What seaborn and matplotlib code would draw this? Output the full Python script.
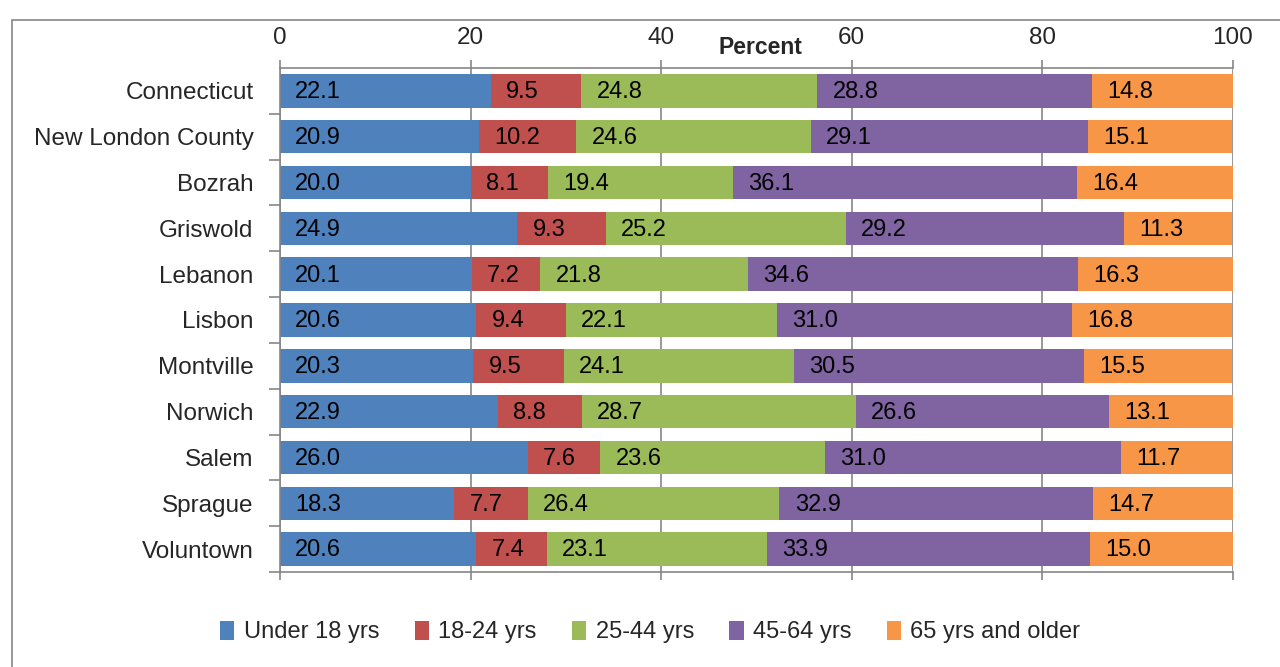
import matplotlib
matplotlib.use("Agg")
import matplotlib.pyplot as plt
from matplotlib.patches import Patch, Rectangle
import numpy as np
import pandas as pd
import seaborn as sns

# Data (percent of population by age group)
towns = ['Connecticut', 'New London County', 'Bozrah', 'Griswold', 'Lebanon',
         'Lisbon', 'Montville', 'Norwich', 'Salem', 'Sprague', 'Voluntown']
age_groups = ['Under 18 yrs', '18-24 yrs', '25-44 yrs', '45-64 yrs', '65 yrs and older']
under_18 = [22.1, 20.9, 20.0, 24.9, 20.1, 20.6, 20.3, 22.9, 26.0, 18.3, 20.6]
age_18_24 = [9.5, 10.2, 8.1, 9.3, 7.2, 9.4, 9.5, 8.8, 7.6, 7.7, 7.4]
age_25_44 = [24.8, 24.6, 19.4, 25.2, 21.8, 22.1, 24.1, 28.7, 23.6, 26.4, 23.1]
age_45_64 = [28.8, 29.1, 36.1, 29.2, 34.6, 31.0, 30.5, 26.6, 31.0, 32.9, 33.9]
age_65_up = [14.8, 15.1, 16.4, 11.3, 16.3, 16.8, 15.5, 13.1, 11.7, 14.7, 15.0]
xticks = [0, 20, 40, 60, 80, 100]

colors = ['#4F81BD', '#C0504D', '#9BBB59', '#8064A2', '#F79646']

sns.set_theme(style='white')
plt.rcParams['font.family'] = ['Liberation Sans', 'DejaVu Sans']

df = pd.DataFrame({'town': towns, age_groups[0]: under_18, age_groups[1]: age_18_24,
                   age_groups[2]: age_25_44, age_groups[3]: age_45_64,
                   age_groups[4]: age_65_up})
vals = df[age_groups].to_numpy()
cum = np.cumsum(vals, axis=1)

fig = plt.figure(figsize=(12.8, 6.67), dpi=100)
ax = fig.add_axes([280 / 1280, 1 - 572 / 667, 953 / 1280, 504 / 667])

# outer chart frame
fig.patches.append(Rectangle((12 / 1280, -0.01), 1.0, 1 - 20 / 667 + 0.01,
                             transform=fig.transFigure, fill=False,
                             edgecolor='#868686', linewidth=1.2))

ax.set_axisbelow(True)
ax.grid(axis='x', color='#868686', linewidth=1.2)

# stacked bars: draw cumulative totals from the largest down
for k in range(len(age_groups) - 1, -1, -1):
    sns.barplot(x=cum[:, k], y=towns, color=colors[k], orient='h', width=0.73,
                saturation=1, linewidth=0, ax=ax)

for i in range(len(towns)):
    for k in range(len(age_groups)):
        start = cum[i, k] - vals[i, k]
        ax.text(start + 1.6, i + 0.03, f"{vals[i, k]:.1f}", va='center', ha='left',
                fontsize=17, color='black')

ax.set_xlim(0, 100)
ax.set_ylim(len(towns) - 0.5, -0.5)
ax.set_xticks(xticks)
ax.set_xticklabels([str(t) for t in xticks])
ax.set_yticks(np.arange(len(towns)) + 0.5, minor=True)
ax.tick_params(axis='x', which='both', top=True, bottom=True, labeltop=True,
               labelbottom=False, direction='out', length=6, width=1.2,
               color='#868686', labelsize=17.5, pad=8)
ax.tick_params(axis='y', which='major', length=0, labelsize=17.5, pad=19)
ax.tick_params(axis='y', which='minor', left=True, direction='out', length=8,
               width=1.2, color='#868686')
ax.set_ylabel('')
ax.set_xlabel('Percent', fontsize=16.5, fontweight='bold')
ax.xaxis.set_label_position('top')
ax.xaxis.set_label_coords(480 / 953, 1 + 21 / 504)
ax.xaxis.label.set_va('center')

for side in ['left', 'top', 'bottom']:
    ax.spines[side].set_visible(True)
    ax.spines[side].set_color('#868686')
    ax.spines[side].set_linewidth(1.2)
ax.spines['right'].set_visible(False)

handles = [Patch(facecolor=c, edgecolor='none') for c in colors]
fig.legend(handles, age_groups, loc='center', bbox_to_anchor=(0.508, 1 - 632 / 667),
           ncol=5, frameon=False, fontsize=17, handlelength=0.6, handleheight=0.9,
           handletextpad=0.4, columnspacing=1.5)

fig.savefig('out.png', dpi=100)
